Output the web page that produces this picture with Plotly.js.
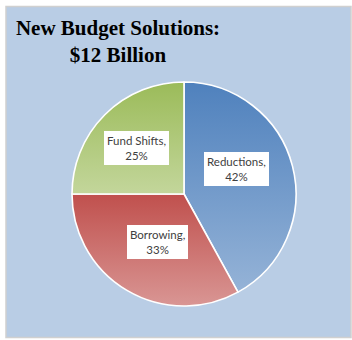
<!DOCTYPE html>
<html>
<head>
<meta charset="utf-8">
<script src="https://cdn.plot.ly/plotly-3.0.1.min.js"></script>
<style>
html,body{margin:0;padding:0;background:#fff;}
#chart{width:352px;height:340px;}
</style>
</head>
<body>
<div id="chart"></div>
<script>
const categories = ['Reductions', 'Borrowing', 'Fund Shifts'];
const values = [42, 33, 25];
const topColors = ['#4f81bd', '#c0504d', '#9bbb59'];
const bottomColors = ['#95b3d7', '#d99694', '#c3d69b'];
const titleLines = ['New Budget Solutions:', '$12 Billion'];

const W = 352, H = 340;
// label box centres (px) for each category
const labelPx = [[236, 168.5], [157.5, 241.5], [136, 148]];

const px = x => x / W;
const py = y => 1 - y / H;

const trace = {
  type: 'pie',
  labels: categories,
  values: values,
  sort: false,
  direction: 'clockwise',
  rotation: 0,
  textinfo: 'none',
  hoverinfo: 'none',
  marker: { colors: topColors, line: { color: '#ffffff', width: 1.6 } },
  domain: { x: [px(184 - 112), px(184 + 112)], y: [py(194 + 112), py(194 - 112)] },
  showlegend: false
};

const total = values.reduce((a, b) => a + b, 0);
const annotations = categories.map((c, i) => ({
  xref: 'paper', yref: 'paper',
  x: px(labelPx[i][0]), y: py(labelPx[i][1]),
  xanchor: 'center', yanchor: 'middle',
  text: c + ',<br>' + Math.round(values[i] / total * 100) + '%',
  showarrow: false,
  bgcolor: '#ffffff',
  borderwidth: 0,
  borderpad: 3,
  font: { family: 'Lato, "Liberation Sans", sans-serif', size: 11.5, color: '#404040' }
}));

const layout = {
  width: W, height: H,
  margin: { l: 0, r: 0, t: 0, b: 0 },
  paper_bgcolor: '#ffffff',
  title: {
    text: titleLines.join('<br>'),
    font: { family: '"Liberation Serif", "Times New Roman", serif', size: 21, color: '#000000', weight: 'bold' },
    xref: 'paper', yref: 'container',
    x: px(118), xanchor: 'center',
    y: py(35), yanchor: 'top'
  },
  shapes: [{
    type: 'rect', xref: 'paper', yref: 'paper', layer: 'below',
    x0: px(6), x1: px(351), y0: py(337.5), y1: py(6.5),
    fillcolor: '#b9cde5',
    line: { color: '#d0d0d0', width: 1.5 }
  }],
  annotations: annotations
};

Plotly.newPlot('chart', [trace], layout, { displayModeBar: false, staticPlot: true }).then(gd => {
  const svg = gd.querySelector('svg.main-svg');
  const ns = 'http://www.w3.org/2000/svg';
  let defs = svg.querySelector('defs');
  if (!defs) { defs = document.createElementNS(ns, 'defs'); svg.insertBefore(defs, svg.firstChild); }
  topColors.forEach((c, i) => {
    const g = document.createElementNS(ns, 'linearGradient');
    g.setAttribute('id', 'sliceGrad' + i);
    g.setAttribute('x1', '0'); g.setAttribute('y1', '0');
    g.setAttribute('x2', '0'); g.setAttribute('y2', '1');
    [[0, c], [1, bottomColors[i]]].forEach(([o, col]) => {
      const s = document.createElementNS(ns, 'stop');
      s.setAttribute('offset', o);
      s.setAttribute('stop-color', col);
      g.appendChild(s);
    });
    defs.appendChild(g);
  });
  const paths = gd.querySelectorAll('.pielayer .slice path.surface');
  paths.forEach((p, i) => {
    const idx = p.__data__ && p.__data__.i !== undefined ? p.__data__.i : i;
    p.style.setProperty('fill', 'url(#sliceGrad' + idx + ')');
  });
});
</script>
</body>
</html>
